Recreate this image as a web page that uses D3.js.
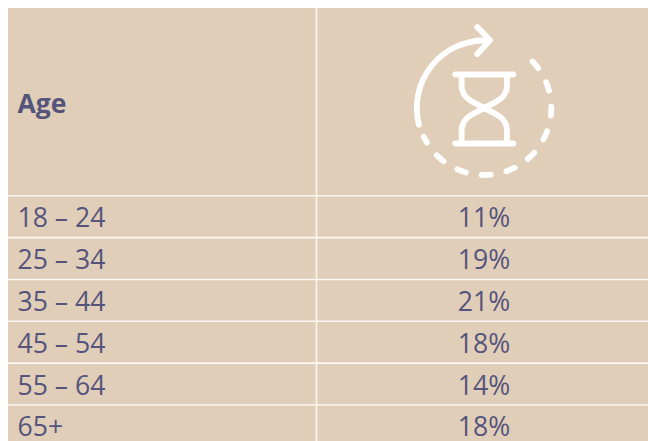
<!DOCTYPE html>
<html>
<head>
<meta charset="utf-8">
<script src="https://cdn.jsdelivr.net/npm/d3@7"></script>
<style>
  html, body { margin: 0; padding: 0; background: #fff; overflow: hidden; }
  text { font-family: "Open Sans", sans-serif; fill: #55547c; }
</style>
</head>
<body>
<svg id="table" width="648" height="441"></svg>
<script>
// table contents
var headerLabel = 'Age';
var ageGroups = ['18 – 24', '25 – 34', '35 – 44', '45 – 54', '55 – 64', '65+'];
var shares = [11, 19, 21, 18, 14, 18];

var svg = d3.select('#table');
var cellColor = '#e0ceb9';
var lineColor = '#fbf7f3';

// row and column layout
var y = d3.scaleBand().domain(ageGroups).range([195.8, 446.8]);
var x = d3.scaleOrdinal().domain(['age', 'share']).range([17.5, 484]);

svg.append('rect')
    .attr('x', 8).attr('y', 8)
    .attr('width', 640).attr('height', 433)
    .attr('fill', cellColor);

// horizontal rules, one on top of each row
svg.selectAll('.rule')
    .data(ageGroups)
    .enter().append('line')
    .attr('class', 'rule')
    .attr('x1', 8).attr('x2', 648)
    .attr('y1', function(d) { return y(d); })
    .attr('y2', function(d) { return y(d); })
    .attr('stroke', lineColor)
    .attr('stroke-width', 1.6);

svg.append('line')
    .attr('x1', 316.5).attr('x2', 316.5)
    .attr('y1', 8).attr('y2', 441)
    .attr('stroke', lineColor)
    .attr('stroke-width', 1.6);

svg.append('text')
    .attr('x', x('age')).attr('y', 112.5)
    .attr('font-size', 26.5)
    .attr('font-weight', 700)
    .text(headerLabel);

svg.selectAll('.age')
    .data(ageGroups)
    .enter().append('text')
    .attr('class', 'age')
    .attr('x', x('age'))
    .attr('y', function(d) { return y(d) + y.bandwidth() / 2 + 10.5; })
    .attr('font-size', 26.6)
    .text(function(d) { return d; });

svg.selectAll('.share')
    .data(shares)
    .enter().append('text')
    .attr('class', 'share')
    .attr('x', x('share'))
    .attr('y', function(d, i) { return y(ageGroups[i]) + y.bandwidth() / 2 + 10.5; })
    .attr('font-size', 26.6)
    .attr('text-anchor', 'middle')
    .text(function(d) { return d + '%'; });

// hourglass icon
var icon = svg.append('g')
    .attr('transform', 'translate(484.3,108)')
    .attr('fill', 'none')
    .attr('stroke', '#fff')
    .attr('stroke-width', 5.8)
    .attr('stroke-linecap', 'round')
    .attr('stroke-linejoin', 'round');

var rad = Math.PI / 180;

var solid = d3.path();
solid.arc(0, 0, 67.5, 165.6 * rad, 272 * rad);
icon.append('path').attr('d', solid.toString());

var dashed = d3.path();
dashed.arc(0, 0, 67, -44 * rad, 154.6 * rad);
icon.append('path').attr('d', dashed.toString()).attr('stroke-dasharray', '9 16');

icon.append('path').attr('d', 'M-7,-81L5.7,-67.7L-7,-54');
icon.append('path').attr('d', 'M-29,-33.5H29M-29,35.5H29');
icon.append('path').attr('d', 'M-22.7,-33V-23C-22.7,-8 -8,-5 0,0S22.7,8 22.7,23V35');
icon.append('path').attr('d', 'M22.7,-33V-23C22.7,-8 8,-5 0,0S-22.7,8 -22.7,23V35');
</script>
</body>
</html>
